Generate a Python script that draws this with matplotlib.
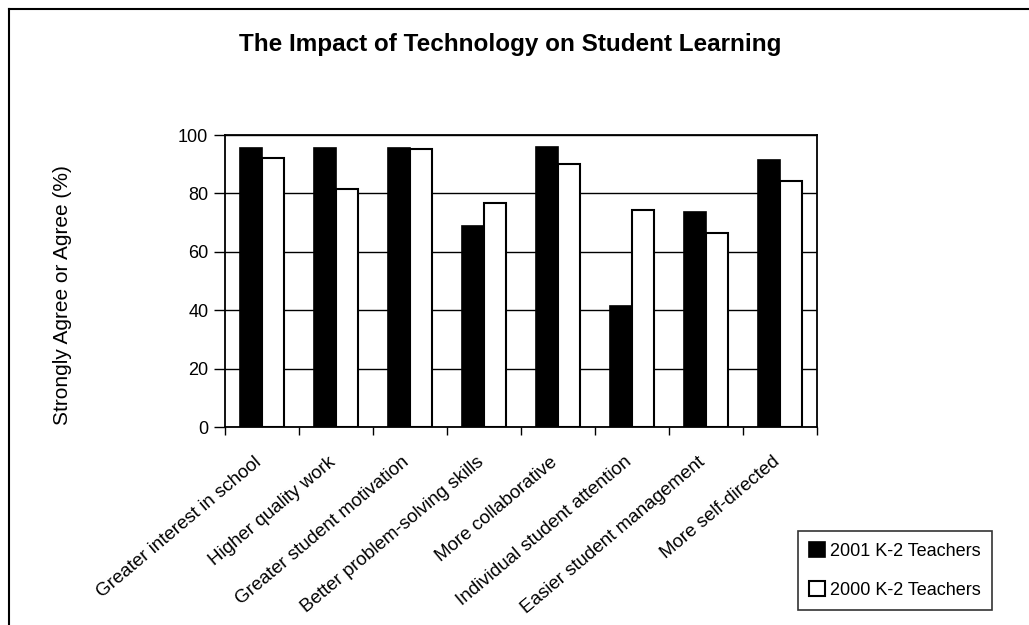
import numpy as np
import matplotlib
matplotlib.use('Agg')
import matplotlib.pyplot as plt
from matplotlib.lines import Line2D

plt.rcParams['font.family'] = ['Liberation Sans', 'DejaVu Sans']

categories = ['Greater interest in school', 'Higher quality work',
              'Greater student motivation', 'Better problem-solving skills',
              'More collaborative', 'Individual student attention',
              'Easier student management', 'More self-directed']
teachers_2001 = [95.6, 95.6, 95.6, 69.0, 95.9, 41.3, 73.8, 91.6]
teachers_2000 = [92.0, 81.6, 95.1, 76.7, 90.1, 74.2, 66.4, 84.1]
series_names = ['2001 K-2 Teachers', '2000 K-2 Teachers']
y_ticks = [0, 20, 40, 60, 80, 100]

W, H = 1029, 625
fig = plt.figure(figsize=(W / 100, H / 100), dpi=100)
ax = fig.add_axes([225 / W, 1 - 427 / H, (817 - 225) / W, (427 - 135) / H])

x = np.arange(len(categories))
bw = 0.3
ax.bar(x - bw / 2, teachers_2001, bw, color='black', edgecolor='black',
       linewidth=1.2, label=series_names[0], zorder=3)
ax.bar(x + bw / 2, teachers_2000, bw, color='white', edgecolor='black',
       linewidth=1.5, label=series_names[1], zorder=3)

ax.set_xlim(-0.5, len(categories) - 0.5)
ax.set_ylim(0, 100)
ax.set_yticks(y_ticks)
ax.tick_params(axis='y', labelsize=13, length=8, width=1, pad=4, direction='out')
ax.yaxis.grid(True, color='black', linewidth=1, zorder=0)
ax.set_axisbelow(True)

# category boundary ticks
ax.set_xticks(np.arange(len(categories) + 1) - 0.5)
ax.set_xticklabels([])
ax.tick_params(axis='x', length=6, width=1, direction='out')
for i, c in enumerate(categories):
    ax.annotate(c, xy=(i, 0), xycoords=('data', 'axes fraction'),
                xytext=(2, -19), textcoords='offset points',
                rotation=40, ha='right', va='top', fontsize=13.5)

for s in ax.spines.values():
    s.set_linewidth(1.3)
    s.set_color('black')

ax.set_ylabel('Strongly Agree or Agree (%)', fontsize=15)
ax.yaxis.set_label_coords(72 / W, 1 - 295 / H, transform=fig.transFigure)

fig.text(510 / W, 1 - 45 / H, 'The Impact of Technology on Student Learning',
         ha='center', va='center', fontsize=17.5, fontweight='bold')

leg = fig.legend(loc='lower right', bbox_to_anchor=(992 / W, 1 - 610 / H),
                 fontsize=13, frameon=True, fancybox=False, shadow=False,
                 handlelength=0.9, handleheight=0.9, handletextpad=0.3,
                 labelspacing=1.2, borderpad=0.6, borderaxespad=0)
leg.get_frame().set_edgecolor('black')
leg.get_frame().set_linewidth(1.2)

# outer frame (left and top edges)
fig.add_artist(Line2D([8.5 / W, 8.5 / W], [0, 1 - 9 / H], color='black',
                      linewidth=1.5, transform=fig.transFigure))
fig.add_artist(Line2D([8.5 / W, 1], [1 - 9 / H, 1 - 9 / H], color='black',
                      linewidth=1.5, transform=fig.transFigure))

fig.savefig('out.png', dpi=100)
